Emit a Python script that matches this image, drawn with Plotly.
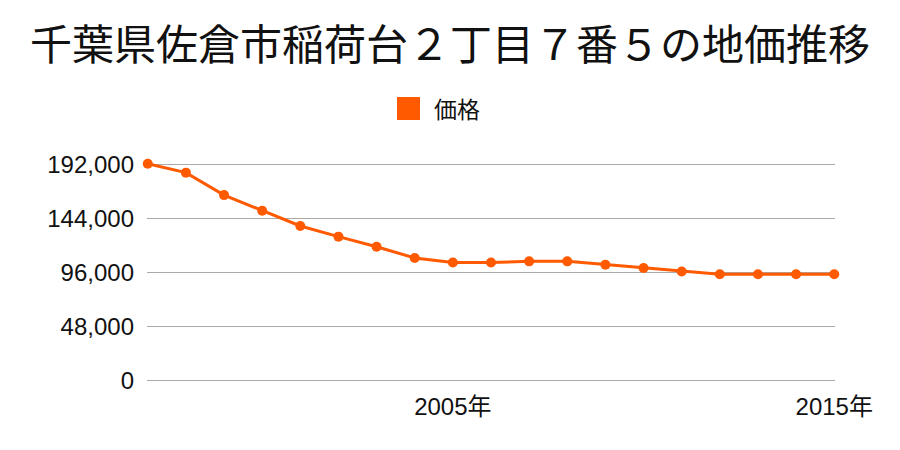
import plotly.graph_objects as go

years = list(range(1997, 2016))
prices = [193000, 185000, 165000, 151000, 137500, 128000, 119000, 109000,
          105000, 105000, 106000, 106000, 103000, 100000, 97000, 94500,
          94500, 94500, 94500]
y_ticks = [0, 48000, 96000, 144000, 192000]
y_tick_text = ["0", "48,000", "96,000", "144,000", "192,000"]
x_ticks = [2005, 2015]
x_tick_text = ["2005年", "2015年"]
series_name = "価格"
title = "千葉県佐倉市稲荷台２丁目７番５の地価推移"

color = "#ff5a00"
cjk = "Noto Sans CJK JP"
num_font = "Liberation Sans, Noto Sans CJK JP"

# plot area geometry (pixels) used to place the hand-made legend
L, T, B, W, H = 147, 162, 68, 688, 220

def px_x(px):
    return (px - L) / W

def px_y(py):
    return (450 - B - py) / H

fig = go.Figure()
fig.add_trace(go.Scatter(
    x=years, y=prices, mode="lines+markers", name=series_name,
    line=dict(color=color, width=3),
    marker=dict(color=color, size=10),
    showlegend=False, cliponaxis=False, hoverinfo="skip"))

fig.add_shape(type="rect", xref="paper", yref="paper",
              x0=px_x(397), x1=px_x(420), y0=px_y(120), y1=px_y(97),
              fillcolor=color, line=dict(width=0))
fig.add_annotation(text=series_name, xref="paper", yref="paper",
                   x=px_x(432), y=px_y(108), xanchor="left", yanchor="middle",
                   showarrow=False, font=dict(size=23, family=cjk, color="#111"))

fig.update_layout(
    width=900, height=450,
    margin=dict(l=L, r=900 - L - W, t=T, b=B),
    paper_bgcolor="white", plot_bgcolor="white",
    font=dict(family=cjk, color="#111"),
    showlegend=False,
    title=dict(text=title, x=0.5, xanchor="center", y=0.9, yanchor="middle",
               font=dict(size=42, family=cjk, color="#111")),
    xaxis=dict(range=[1996.98, 2015.02], tickvals=x_ticks, ticktext=x_tick_text,
               showgrid=False, zeroline=False, showline=False, ticks="",
               ticklabelstandoff=8,
               tickfont=dict(size=24, family=num_font, color="#111")),
    yaxis=dict(range=[-1500, 194500], tickvals=y_ticks, ticktext=y_tick_text,
               showgrid=True, gridcolor="#aaaaaa", gridwidth=1, zeroline=False,
               showline=False, ticks="", ticklabelstandoff=12,
               tickfont=dict(size=24, family=num_font, color="#111")),
)
fig.write_html("out.html")
